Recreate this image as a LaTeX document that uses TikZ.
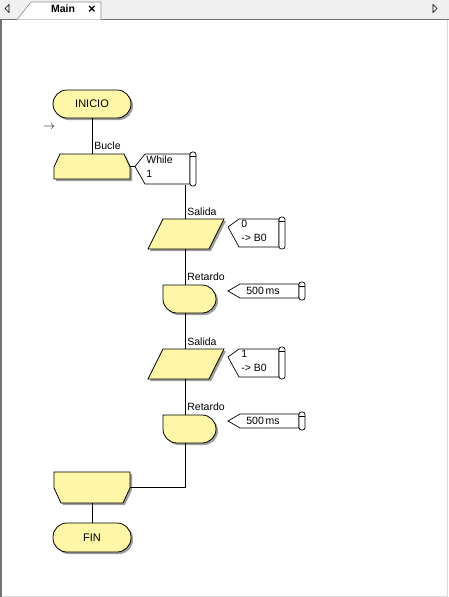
\documentclass[tikz,border=0pt]{standalone}
\usepackage{fontspec}
\setmainfont{Liberation Sans}
\usepackage{tikz}
\usetikzlibrary{positioning}
\definecolor{flowfill}{RGB}{255,246,168}
\definecolor{barbg}{RGB}{240,240,240}

\begin{document}
\begin{tikzpicture}[x=1pt, y=-1pt, line width=0.8pt,
    blk/.style={inner sep=0pt, font=\fontsize{11}{12}\selectfont},
    shp/.style={draw=black, fill=flowfill,
        preaction={fill=black!38, transform canvas={shift={(2pt,-2pt)}}}},
    cmt/.style={draw=black, fill=white, line width=0.7pt},
    ctxt/.style={inner sep=0pt, anchor=north west, align=left, font=\fontsize{10.5}{14}\selectfont},
    lbl/.style={anchor=west, inner sep=0pt, font=\fontsize{10.5}{11}\selectfont}]
    \useasboundingbox (0,0) rectangle (449,597);

    % window frame and tab
    \fill[barbg] (0,0) rectangle (449,19);
    \fill[white] (0,19) rectangle (449,597);
    \draw[black!15, line width=1pt] (447.5,19) -- (447.5,596.5) -- (0,596.5);
    \draw[black!55, line width=1.5pt] (0.75,597) -- (0.75,19.25) -- (449,19.25);
    \filldraw[fill=white, draw=black!45, line width=0.6pt] (17,19.5) -- (31,2) -- (101,2) -- (101,19.5);
    \node[font=\bfseries\fontsize{10.5}{11}\selectfont] (tab) at (63,9) {Main};
    \node[font=\bfseries\fontsize{13}{13}\selectfont] (tabx) at (92,10) {×};
    \draw[line width=0.6pt] (9,4.5) -- (5,8.5) -- (9,12.5) -- cycle;
    \draw[line width=0.6pt] (433,4.5) -- (437,8.5) -- (433,12.5) -- cycle;

    % shapes
    \filldraw[shp, rounded corners=14pt] (53,90) rectangle (131,118);
    \filldraw[shp] (54,167) -- (60,154) -- (124,154) -- (130,167) -- (130,179) -- (54,179) -- cycle;
    \filldraw[shp] (163,219) -- (224,219) -- (209,249) -- (148,249) -- cycle;
    \filldraw[shp] (163,285) [rounded corners=14pt] -- (216,285) -- (216,313) -- (163,313) [sharp corners] -- cycle;
    \filldraw[shp] (163,349) -- (224,349) -- (209,379) -- (148,379) -- cycle;
    \filldraw[shp] (163,415) [rounded corners=14pt] -- (216,415) -- (216,443) -- (163,443) [sharp corners] -- cycle;
    \filldraw[shp] (54,472) -- (130,472) -- (130,488) -- (123,503) -- (61,503) -- (54,488) -- cycle;
    \filldraw[shp, rounded corners=14pt] (53,523) rectangle (131,552);

    \node[blk, minimum width=78pt, minimum height=28pt] (inicio) at (92,104) {INICIO};
    \node[blk, minimum width=76pt, minimum height=25pt] (bucle) at (92,166.5) {};
    \node[blk, minimum width=61pt, minimum height=30pt] (salidaA) at (185,234) {};
    \node[blk, minimum width=40pt, minimum height=28pt] (retardoA) at (185,299) {};
    \node[blk, minimum width=61pt, minimum height=30pt] (salidaB) at (185,364) {};
    \node[blk, minimum width=40pt, minimum height=28pt] (retardoB) at (185,429) {};
    \node[blk, minimum width=76pt, minimum height=31pt] (finbucle) at (92,487.5) {};
    \node[blk, minimum width=78pt, minimum height=29pt] (fin) at (92,537.5) {FIN};

    % comments
    \filldraw[cmt] (135,166.5) -- (145,154) -- (190,154) -- (190,184) -- (145,184) -- cycle;
    \filldraw[cmt, rounded corners=2.5pt] (190,152) rectangle (196,186);
    \draw[line width=0.6pt] (190,156) -- (196,156);
    \node[ctxt] (cwhile) at (146,155) {While\\1};

    \filldraw[cmt] (228,227) -- (239,219) -- (279,219) -- (279,247) -- (239,247) -- cycle;
    \filldraw[cmt, rounded corners=2.5pt] (279,217) rectangle (285,249);
    \draw[line width=0.6pt] (279,221) -- (285,221);
    \node[ctxt] (csalA) at (241,220) {0\\-> B0};

    \filldraw[cmt] (228,291) -- (240,284) -- (299,284) -- (299,298) -- (240,298) -- cycle;
    \filldraw[cmt, rounded corners=2.5pt] (299,282) rectangle (305,300);
    \draw[line width=0.6pt] (299,286) -- (305,286);
    \node[inner sep=0pt, font=\fontsize{10.5}{11}\selectfont] (cretA) at (263,291) {500\,ms};

    \filldraw[cmt] (228,357) -- (239,349) -- (279,349) -- (279,377) -- (239,377) -- cycle;
    \filldraw[cmt, rounded corners=2.5pt] (279,347) rectangle (285,379);
    \draw[line width=0.6pt] (279,351) -- (285,351);
    \node[ctxt] (csalB) at (241,350) {1\\-> B0};

    \filldraw[cmt] (228,421) -- (240,414) -- (299,414) -- (299,428) -- (240,428) -- cycle;
    \filldraw[cmt, rounded corners=2.5pt] (299,412) rectangle (305,430);
    \draw[line width=0.6pt] (299,416) -- (305,416);
    \node[inner sep=0pt, font=\fontsize{10.5}{11}\selectfont] (cretB) at (263,421) {500\,ms};

    % labels
    \node[lbl] (lbucle) at (94,146) {Bucle};
    \node[lbl] (lsalA) at (187,212) {Salida};
    \node[lbl] (lretA) at (187,277) {Retardo};
    \node[lbl] (lsalB) at (187,342) {Salida};
    \node[lbl] (lretB) at (187,407) {Retardo};
    \node[font=\fontsize{13}{13}\selectfont] (cursor) at (49,127) {$\rightarrow$};

    % connectors
    \coordinate (ptwhile) at (135,166.5);
    \coordinate (coltop) at (185,185);
    \draw (inicio) -- (bucle);
    \draw (bucle.east) -- (ptwhile);
    \draw (coltop) -- (salidaA.north);
    \draw (salidaA) -- (retardoA);
    \draw (retardoA) -- (salidaB);
    \draw (salidaB) -- (retardoB);
    \draw (retardoB.south) |- (finbucle.east);
    \draw (finbucle) -- (fin);
\end{tikzpicture}
\end{document}
